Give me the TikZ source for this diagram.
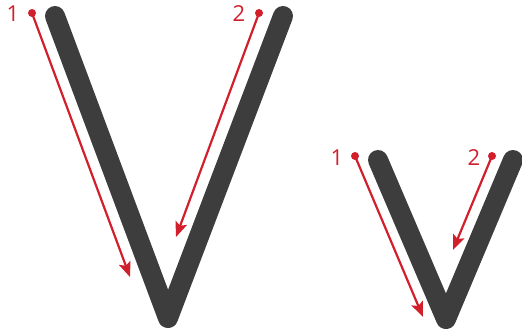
\documentclass[tikz,border=0pt]{standalone}
\usepackage{fontspec}
\setsansfont{Open Sans}
\usetikzlibrary{arrows.meta}
\definecolor{strokegray}{HTML}{3D3D3D}
\definecolor{guidered}{HTML}{D11F2C}
\tikzset{
  letterstroke/.style={draw=strokegray,line width=20pt,line cap=round,line join=round},
  guidearrow/.style={draw=guidered,line width=2.2pt,-{Stealth[length=15pt,width=12pt,inset=3pt]},shorten <=1pt},
  guidedot/.style={circle,fill=guidered,inner sep=0pt,minimum size=8pt},
  numlabel/.style={text=guidered,font=\sffamily\fontsize{22}{22}\selectfont,anchor=base,inner sep=0pt}
}
\begin{document}
\begin{tikzpicture}[x=1pt,y=-1pt]
\useasboundingbox (0,0) rectangle (522,333);
% big V
\draw[letterstroke] (55,16) -- (168,318) -- (283,16);
% small v
\draw[letterstroke] (378,160) -- (446,319) -- (513,160);
% labels and dots
\node[numlabel] (n1) at (13,21) {1};
\node[guidedot] (d1) at (32,13) {};
\node[numlabel] (n2) at (239,21) {2};
\node[guidedot] (d2) at (259,13) {};
\node[numlabel] (n3) at (337,165) {1};
\node[guidedot] (d3) at (355,156) {};
\node[numlabel] (n4) at (474,165) {2};
\node[guidedot] (d4) at (492,156) {};
% arrow ends
\coordinate (e1) at (130,277);
\coordinate (e2) at (176,237);
\coordinate (e3) at (423,317);
\coordinate (e4) at (453,250);
\draw[guidearrow] (d1.center) -- (e1);
\draw[guidearrow] (d2.center) -- (e2);
\draw[guidearrow] (d3.center) -- (e3);
\draw[guidearrow] (d4.center) -- (e4);
\end{tikzpicture}
\end{document}
